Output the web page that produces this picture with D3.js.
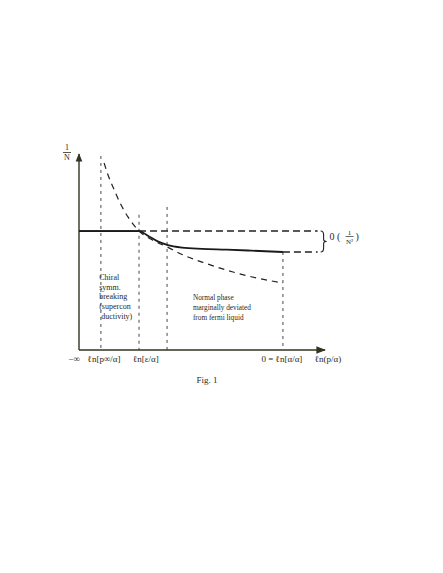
<!DOCTYPE html>
<html lang="en">
<head>
<meta charset="UTF-8">
<title>Fig. 1</title>
<script src="https://d3js.org/d3.v7.min.js"></script>
<style>
  body { margin: 0; background: #fff; }
  text { font-family: "Liberation Serif", "DejaVu Serif", serif; fill: #2a2a22; }
</style>
</head>
<body>
<script>
// abstract units: x = ln(p/alpha) axis, y = 1/N
var xMarks = [8.9, 24.4, 35.8, 82.9];        // dashed verticals
var xMarkTops = [99, 69, 73, 50];            // where each vertical starts
var solidX = [0, 24.4, 28, 32, 35.8, 41.9, 50, 60, 70, 82.9];
var solidY = [60.7, 60.7, 58.3, 55.4, 53.6, 52.2, 51.6, 51.2, 50.7, 50];
var dashX = [10.2, 11.8, 13.8, 16.7, 19.9, 24.4, 30, 35.8, 42.3, 52, 62.6, 72, 82.9];
var dashY = [95.4, 89.3, 83.2, 75, 67.9, 60.7, 56, 52.6, 48.5, 44, 39.8, 36.8, 34.2];
var bandTop = 60.7, bandBottom = 50, bandEnd = 97;
var tickPos = [-2, 10.2, 27.2, 82.5, 101.2];
var tickText = ["−∞", "ℓn[p∞/α]", "ℓn[ε/α]", "0 = ℓn[α/α]", "ℓn(p/α)"];
var chiralLines = ["Chiral", "symm.", "breaking", "(supercon", " ductivity)"];
var normalLines = ["Normal phase", "marginally deviated", "from fermi liquid"];

var W = 443, H = 573;
var x = d3.scaleLinear().domain([0, 100]).range([79, 325]);
var y = d3.scaleLinear().domain([0, 100]).range([350, 154]);

var svg = d3.select("body").append("svg").attr("width", W).attr("height", H);

svg.append("defs").append("marker")
  .attr("id", "arr").attr("viewBox", "0 0 10 10").attr("refX", 9).attr("refY", 5)
  .attr("markerWidth", 6).attr("markerHeight", 6).attr("orient", "auto")
  .append("path").attr("d", "M0,1 L10,5 L0,9 Z").attr("fill", "#33331f");

// axes
svg.append("line").attr("x1", x(0)).attr("y1", y(0)).attr("x2", x(100)).attr("y2", y(0))
  .attr("stroke", "#33331f").attr("stroke-width", 1.6).attr("marker-end", "url(#arr)");
svg.append("line").attr("x1", x(0)).attr("y1", y(0)).attr("x2", x(0)).attr("y2", y(100))
  .attr("stroke", "#33331f").attr("stroke-width", 1.4).attr("marker-end", "url(#arr)");

// 1/N label
svg.append("text").attr("x", x(0) - 12).attr("y", y(100) - 4).attr("text-anchor", "middle")
  .style("font-size", "8px").text("1");
svg.append("line").attr("x1", x(0) - 16).attr("x2", x(0) - 8).attr("y1", y(100) - 1.5).attr("y2", y(100) - 1.5)
  .attr("stroke", "#2a2a22").attr("stroke-width", 0.8);
svg.append("text").attr("x", x(0) - 12).attr("y", y(100) + 6).attr("text-anchor", "middle")
  .style("font-size", "8px").text("N");

// dashed verticals
svg.selectAll(".vmark").data(xMarks).enter().append("line")
  .attr("x1", function(d) { return x(d); }).attr("x2", function(d) { return x(d); })
  .attr("y1", function(d, i) { return y(xMarkTops[i]); }).attr("y2", y(0))
  .attr("stroke", "#333").attr("stroke-width", 0.9).attr("stroke-dasharray", "3,4");

// flat solid segment
svg.append("line").attr("x1", x(0)).attr("x2", x(24.4)).attr("y1", y(bandTop)).attr("y2", y(bandTop))
  .attr("stroke", "#222").attr("stroke-width", 1.6);

// band dashed edges
svg.append("line").attr("x1", x(24.4)).attr("x2", x(bandEnd)).attr("y1", y(bandTop)).attr("y2", y(bandTop))
  .attr("stroke", "#222").attr("stroke-width", 1.4).attr("stroke-dasharray", "7,4");
svg.append("line").attr("x1", x(82.9)).attr("x2", x(bandEnd)).attr("y1", y(bandBottom)).attr("y2", y(bandBottom))
  .attr("stroke", "#222").attr("stroke-width", 1.4).attr("stroke-dasharray", "7,4");

// solid curve
var solid = solidX.map(function(d, i) { return [d, solidY[i]]; });
svg.append("path").datum(solid)
  .attr("d", d3.line().x(function(d) { return x(d[0]); }).y(function(d) { return y(d[1]); }).curve(d3.curveMonotoneX))
  .attr("fill", "none").attr("stroke", "#1a1a1a").attr("stroke-width", 1.8);

// dashed curve
var dash = dashX.map(function(d, i) { return [d, dashY[i]]; });
svg.append("path").datum(dash)
  .attr("d", d3.line().x(function(d) { return x(d[0]); }).y(function(d) { return y(d[1]); }).curve(d3.curveMonotoneX))
  .attr("fill", "none").attr("stroke", "#222").attr("stroke-width", 1.2).attr("stroke-dasharray", "6,5");

// brace
var bx = x(bandEnd) + 3, bt = y(bandTop), bb = y(bandBottom), bm = (bt + bb) / 2;
svg.append("path")
  .attr("d", "M" + bx + "," + bt + " Q" + (bx + 3) + "," + bt + " " + (bx + 3) + "," + (bt + 4) +
    " L" + (bx + 3) + "," + (bm - 2) + " Q" + (bx + 3) + "," + bm + " " + (bx + 6) + "," + bm +
    " Q" + (bx + 3) + "," + bm + " " + (bx + 3) + "," + (bm + 2) +
    " L" + (bx + 3) + "," + (bb - 4) + " Q" + (bx + 3) + "," + bb + " " + bx + "," + bb)
  .attr("fill", "none").attr("stroke", "#222").attr("stroke-width", 1.1);

// O(1/N^2)
var ox = bx + 9, oy = bm - 6;
svg.append("text").attr("x", ox).attr("y", oy + 4).style("font-size", "10px").text("0 (");
svg.append("text").attr("x", ox + 20).attr("y", oy - 1).attr("text-anchor", "middle").style("font-size", "7px").text("1");
svg.append("line").attr("x1", ox + 16).attr("x2", ox + 24).attr("y1", oy + 1).attr("y2", oy + 1)
  .attr("stroke", "#2a2a22").attr("stroke-width", 0.7);
svg.append("text").attr("x", ox + 20).attr("y", oy + 8).attr("text-anchor", "middle").style("font-size", "7px").text("N²");
svg.append("text").attr("x", ox + 26).attr("y", oy + 4).style("font-size", "10px").text(")");

// tick labels
svg.selectAll(".tick").data(tickText).enter().append("text")
  .attr("x", function(d, i) { return x(tickPos[i]); }).attr("y", y(0) + 12)
  .attr("text-anchor", "middle").style("font-size", "9px").text(function(d) { return d; });

// region annotations
svg.append("text").attr("x", x(8.2)).attr("y", y(35.7)).style("font-size", "8px")
  .selectAll("tspan").data(chiralLines).enter().append("tspan")
  .attr("x", x(8.2)).attr("dy", function(d, i) { return i ? 9.7 : 0; }).text(function(d) { return d; });

svg.append("text").attr("x", x(46.3)).attr("y", y(25.5)).style("font-size", "7.3px")
  .selectAll("tspan").data(normalLines).enter().append("tspan")
  .attr("x", x(46.3)).attr("dy", function(d, i) { return i ? 10 : 0; }).text(function(d) { return d; });

svg.append("text").attr("x", 207).attr("y", 383).attr("text-anchor", "middle").style("font-size", "9px").text("Fig. 1");
</script>
</body>
</html>
